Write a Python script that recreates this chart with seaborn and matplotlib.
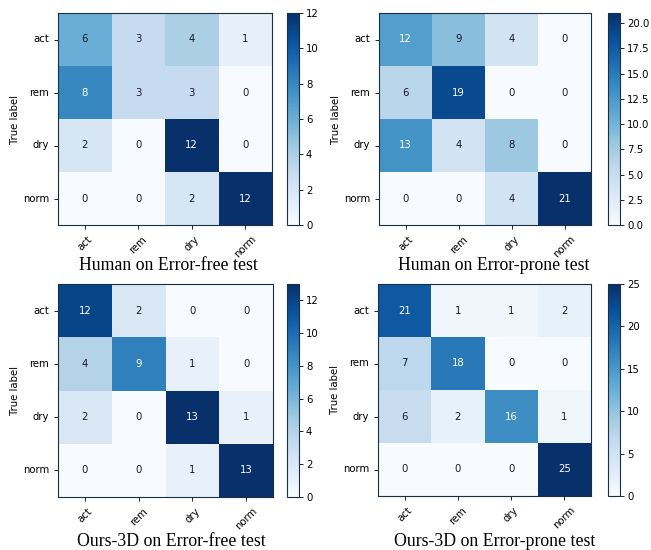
import numpy as np
import matplotlib
matplotlib.use("Agg")
import matplotlib.pyplot as plt
import seaborn as sns

labels = ["act", "rem", "dry", "norm"]

human_free = [[6, 3, 4, 1],
              [8, 3, 3, 0],
              [2, 0, 12, 0],
              [0, 0, 2, 12]]
human_prone = [[12, 9, 4, 0],
               [6, 19, 0, 0],
               [13, 4, 8, 0],
               [0, 0, 4, 21]]
ours_free = [[12, 2, 0, 0],
             [4, 9, 1, 0],
             [2, 0, 13, 1],
             [0, 0, 1, 13]]
ours_prone = [[21, 1, 1, 2],
              [7, 18, 0, 0],
              [6, 2, 16, 1],
              [0, 0, 0, 25]]

titles = ["Human on Error-free test", "Human on Error-prone test",
          "Ours-3D on Error-free test", "Ours-3D on Error-prone test"]
cbar_ticks = [[0, 2, 4, 6, 8, 10, 12],
              [0, 2.5, 5, 7.5, 10, 12.5, 15, 17.5, 20],
              [0, 2, 4, 6, 8, 10, 12],
              [0, 5, 10, 15, 20, 25]]
matrices = [human_free, human_prone, ours_free, ours_prone]

W, H = 651, 550
# pixel boxes: heatmap (left, top, right, bottom), colorbar (left, right), title centre
boxes = [((58, 13, 272, 225), (287, 299), (168, 266)),
         ((379, 13, 591, 225), (608, 620), (494, 266)),
         ((58, 284, 273, 497), (287, 299), (171, 542)),
         ((378, 284, 591, 496), (608, 620), (495, 542))]

fig = plt.figure(figsize=(W / 100, H / 100), dpi=100)
fs = 7.3

for cm, title, ticks, (ab, cb, tc) in zip(matrices, titles, cbar_ticks, boxes):
    cm = np.array(cm)
    l, t, r, b = ab
    ax = fig.add_axes([l / W, 1 - b / H, (r - l) / W, (b - t) / H])
    cax = fig.add_axes([cb[0] / W, 1 - b / H, (cb[1] - cb[0]) / W, (b - t) / H])
    sns.heatmap(cm, ax=ax, cbar_ax=cax, cmap="Blues", vmin=0, vmax=cm.max(),
                annot=True, fmt="d", annot_kws={"size": fs},
                xticklabels=labels, yticklabels=labels,
                cbar_kws={"ticks": ticks})
    # sklearn-style text colour: white above half of the max
    thresh = cm.max() / 2.0
    for txt in ax.texts:
        v = int(txt.get_text())
        txt.set_color("white" if v > thresh else "#1a1a2a")
    for s in ax.spines.values():
        s.set_visible(True)
        s.set_linewidth(0.8)
        s.set_color("#183040")
    ax.tick_params(axis="both", length=3, width=0.6, labelsize=fs, left=True, bottom=True)
    plt.setp(ax.get_xticklabels(), rotation=45, ha="center")
    plt.setp(ax.get_yticklabels(), rotation=0)
    ax.set_ylabel("True label", fontsize=fs, labelpad=2)
    ax.set_xlabel("")
    cbar = ax.collections[0].colorbar
    cbar.outline.set_visible(True)
    cbar.outline.set_linewidth(0.8)
    cbar.outline.set_edgecolor("#183040")
    cax.tick_params(labelsize=fs, length=3, width=0.6, pad=2)
    fig.text(tc[0] / W, 1 - tc[1] / H, title, ha="center", va="center",
             fontsize=12.8, family="Liberation Serif")

fig.savefig("out.png", dpi=100)
